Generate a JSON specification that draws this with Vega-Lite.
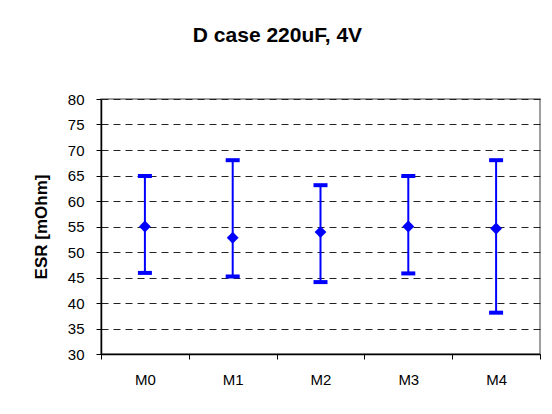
{
  "$schema": "https://vega.github.io/schema/vega-lite/v6.json",
  "autosize": "none",
  "width": 439,
  "height": 255,
  "padding": {"left": 101, "top": 99, "right": 12, "bottom": 60},
  "background": "white",
  "title": {
    "text": "D case 220uF, 4V",
    "font": "Liberation Sans",
    "fontSize": 21,
    "fontWeight": "bold",
    "color": "black",
    "anchor": "middle",
    "frame": "group",
    "dx": -43,
    "offset": 46
  },
  "config": {
    "font": "Liberation Sans",
    "view": {"stroke": "#808080", "strokeWidth": 1.5},
    "axis": {
      "labelFont": "Liberation Sans",
      "labelFontSize": 15,
      "labelColor": "black",
      "labelOverlap": false,
      "domainColor": "black",
      "domainWidth": 1.5,
      "tickColor": "black",
      "tickWidth": 1
    },
    "axisY": {
      "tickCount": 10,
      "labelOverlap": false,
      "grid": true,
      "gridColor": "#222222",
      "gridDash": [7, 5],
      "gridWidth": 1,
      "tickSize": 5,
      "labelPadding": 12,
      "titleFont": "Liberation Sans",
      "titleFontSize": 17,
      "titleFontWeight": "bold",
      "titleColor": "black",
      "titlePadding": 17
    }
  },
  "data": {
    "values": [
      {"group": "M0", "mean": 55.0, "low": 45.9, "high": 64.9},
      {"group": "M1", "mean": 52.8, "low": 45.2, "high": 68.0},
      {"group": "M2", "mean": 53.9, "low": 44.1, "high": 63.1},
      {"group": "M3", "mean": 55.0, "low": 45.8, "high": 64.9},
      {"group": "M4", "mean": 54.6, "low": 38.1, "high": 68.0}
    ]
  },
  "encoding": {
    "x": {
      "field": "group",
      "type": "nominal",
      "scale": {"paddingInner": 0, "paddingOuter": 0},
      "axis": {
        "title": null,
        "labelAngle": 0,
        "tickBand": "extent",
        "tickSize": 5,
        "labelPadding": 13,
        "grid": false
      }
    }
  },
  "layer": [
    {
      "mark": {"type": "rule", "color": "#0000FF", "strokeWidth": 2},
      "encoding": {
        "y": {
          "field": "low",
          "type": "quantitative",
          "scale": {"domain": [30, 80], "nice": false, "zero": false},
          "title": "ESR [mOhm]"
        },
        "y2": {"field": "high"}
      }
    },
    {
      "mark": {"type": "tick", "color": "#0000FF", "size": 14, "thickness": 4, "opacity": 1},
      "encoding": {"y": {"field": "low", "type": "quantitative", "title": "ESR [mOhm]"}}
    },
    {
      "mark": {"type": "tick", "color": "#0000FF", "size": 14, "thickness": 4, "opacity": 1},
      "encoding": {"y": {"field": "high", "type": "quantitative", "title": "ESR [mOhm]"}}
    },
    {
      "mark": {"type": "point", "shape": "diamond", "filled": true, "color": "#0000FF", "size": 140, "opacity": 1},
      "encoding": {"y": {"field": "mean", "type": "quantitative", "title": "ESR [mOhm]"}}
    }
  ]
}
